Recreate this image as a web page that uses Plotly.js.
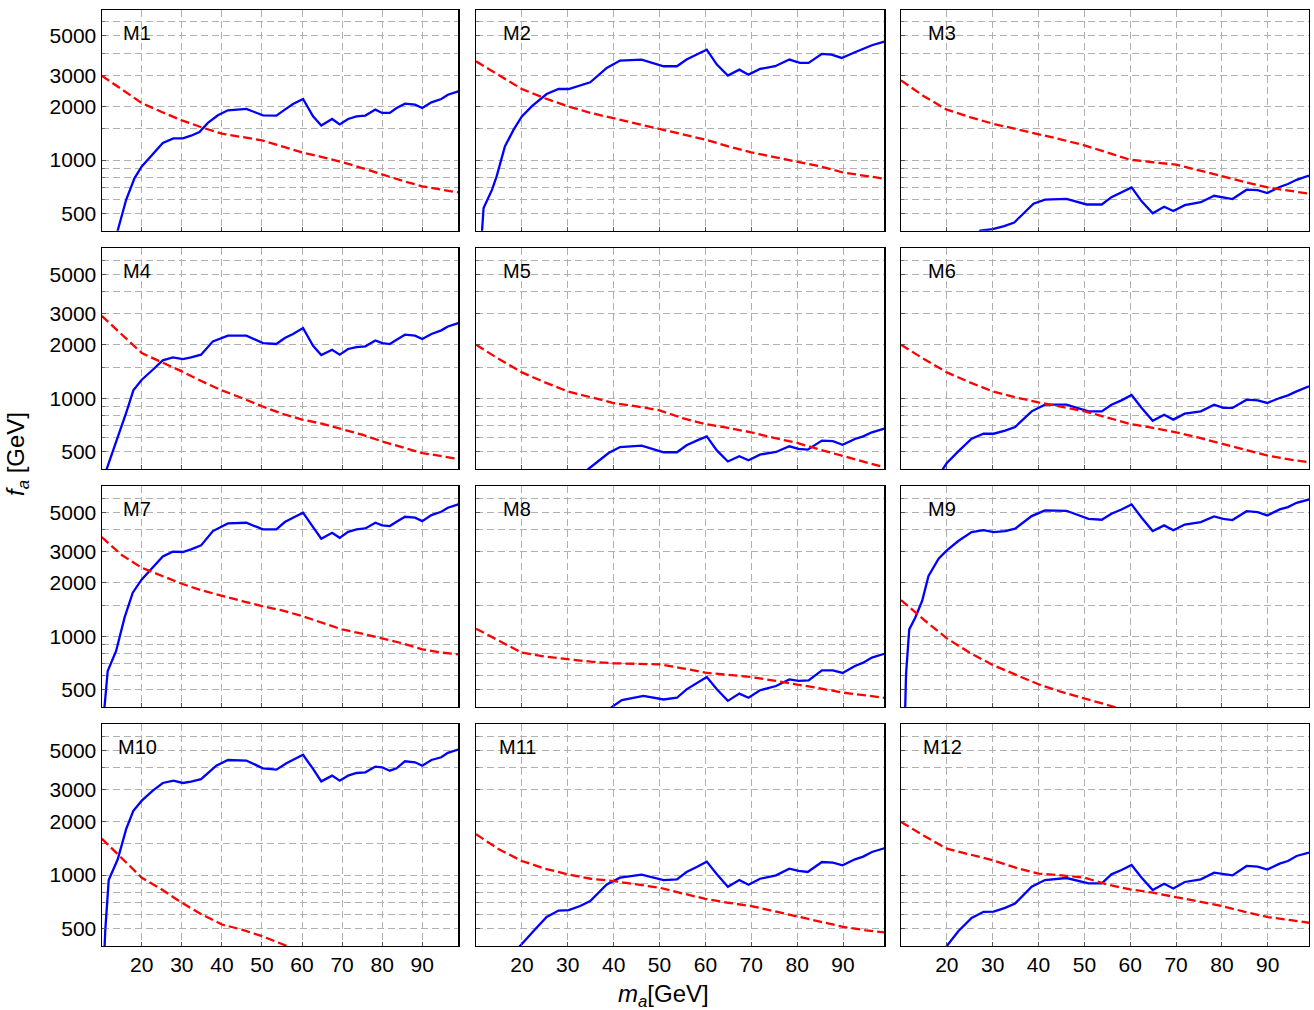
<!DOCTYPE html>
<html>
<head>
<meta charset="utf-8">
<script src="https://cdn.plot.ly/plotly-3.0.1.min.js"></script>
<style>html,body{margin:0;padding:0;background:#fff;}#chart{width:1314px;height:1010px;}</style>
</head>
<body>
<div id="chart"></div>
<script>
// ---------------- data ----------------
const panelNames = ['M1','M2','M3','M4','M5','M6','M7','M8','M9','M10','M11','M12'];
const xTickVals = [20,30,40,50,60,70,80,90];
const yTickVals = [500,1000,2000,3000,5000];
const yTickText = ['500','1000','2000','3000','5000'];
const yMinorGridVals = [600,700,800,900,1500,4000,6000];
const redX = [10,15,20,25,30,35,40,45,50,55,60,65,70,75,80,85,90,95,99];

const m1BlueX = [13.3,14,16.1,18.2,20,22.75,25.25,27.9,30.25,32.3,34.4,36.5,39,41.5,46.1,50.25,53.6,55.7,57.75,60.25,62.75,64.8,67.5,69.4,71.5,73.6,75.8,78.3,80,81.9,83.6,85.7,88.2,90,92.3,94.75,96.4,99];
const m1BlueY = [300,401,597,791,921,1072,1247,1325,1325,1371,1438,1618,1787,1906,1940,1787,1780,1923,2070,2208,1763,1567,1703,1588,1703,1763,1780,1923,1842,1842,1965,2079,2052,1965,2114,2208,2334,2438];
const m1Red = [2990,2500,2094,1865,1673,1527,1407,1348,1291,1194,1105,1040,974,901,827,765,711,680,657];

const m2BlueX = [11.1,11.3,11.65,13.5,14.5,16.3,18.2,20,22.2,25.4,28,30.2,32.7,34.9,38.5,41.4,46.1,50.9,53.8,55.9,58.1,60.3,62.5,64.9,67.4,69.4,71.9,75.2,78.3,80.6,82.5,85.4,87.5,89.7,92.6,94.1,96.3,99];
const m2BlueY = [330,400,536,681,809,1194,1483,1762,2010,2355,2512,2512,2624,2742,3305,3634,3681,3375,3375,3681,3927,4188,3450,2993,3230,3027,3258,3375,3681,3524,3524,3962,3927,3758,4046,4188,4433,4650];
const m2Red = [3597,2995,2512,2228,2010,1842,1719,1603,1497,1396,1303,1194,1105,1040,983,921,851,816,785];

const m3BlueX = [25,27.3,30,32.5,34.7,36.7,38.9,41.4,46.1,50.5,53.8,55.9,58.1,60.3,62.5,64.9,67.4,69.4,71.9,75.4,78.3,80.3,82.3,85.4,87.8,89.9,92.6,94.4,96.3,99];
const m3BlueY = [340,400,408,425,445,502,568,598,605,562,562,618,658,701,585,502,546,516,557,579,629,618,603,681,677,652,705,733,774,817];
const m3Red = [2812,2286,1923,1746,1603,1500,1407,1305,1210,1100,1004,972,942,875,809,752,701,670,646];

const m4BlueX = [10.8,11.25,11.9,14,16.1,17.9,20,22.75,25.25,27.75,30.25,32.3,34.8,37.75,41.5,46.1,50.25,53.6,55.7,57.75,60.25,62.75,64.8,67.5,69.4,71.5,73.6,75.8,78.3,80,81.9,83.6,85.7,88.2,90,92.3,94.75,96.4,99];
const m4BlueY = [340,400,441,599,827,1109,1274,1449,1637,1702,1665,1702,1762,2094,2254,2254,2047,2023,2188,2303,2489,1977,1754,1879,1762,1897,1945,1963,2119,2047,2023,2138,2282,2254,2158,2303,2415,2541,2655];
const m4Red = [2917,2303,1799,1596,1419,1247,1109,1004,902,820,759,720,671,624,572,532,492,472,456];

const m5BlueX = [32,34.5,38.9,41.4,46.1,50.9,53.8,55.9,58.1,60.3,62.5,64.9,67.4,69.4,71.9,75.4,78.3,80.3,82.3,85.4,87.8,89.9,92.6,94.4,96.3,99];
const m5BlueY = [360,400,492,532,542,497,497,544,578,611,509,441,472,448,482,499,537,519,514,578,574,548,590,611,644,675];
const m5Red = [2004,1665,1400,1231,1094,1013,941,902,856,774,717,681,644,598,561,514,472,436,409];

const m6BlueX = [18,19.1,20,22.5,25.4,28,30.2,32.7,34.9,38.5,41.4,46.1,50.9,53.8,55.9,58.1,60.3,62.5,64.9,67.4,69.4,71.9,75.4,78.3,80.3,82.3,85.4,87.8,89.9,92.6,94.4,96.3,99];
const m6BlueY = [360,400,433,503,593,632,632,658,690,845,921,921,845,845,921,974,1044,883,748,809,759,820,845,921,883,883,983,974,942,1004,1040,1094,1169];
const m6Red = [2004,1665,1400,1231,1094,1013,949,895,845,780,717,681,644,600,556,515,476,452,436];

const m7BlueX = [10.5,10.7,11.5,13.6,15.7,17.75,20,22.75,25.25,27.75,30.25,32.3,34.8,37.75,41.5,46.1,50.25,53.6,55.7,57.75,60.25,62.75,64.8,67.5,69.4,71.5,73.6,75.8,78.3,80,81.9,83.6,85.7,88.2,90,92.3,94.75,96.4,99];
const m7BlueY = [330,400,638,827,1274,1762,2094,2455,2818,2997,2985,3090,3254,3918,4326,4362,4001,4001,4403,4659,4970,4123,3548,3831,3589,3881,4001,4055,4362,4217,4180,4417,4716,4659,4456,4820,5032,5300,5535];
const m7Red = [3622,2872,2433,2188,1977,1815,1687,1581,1482,1400,1301,1194,1094,1035,974,914,845,809,792];

const m8BlueX = [38,39.6,41.8,46.5,50.9,53.8,55.9,58.1,60.3,62.5,64.9,67.4,69.4,71.9,75.4,78.3,80.3,82.5,85.4,87.8,89.9,92.6,94.4,96.3,99];
const m8BlueY = [360,400,438,462,441,451,503,544,590,503,433,476,451,497,525,572,561,565,644,644,622,681,711,759,798];
const m8Red = [1105,942,809,769,743,720,705,700,696,661,624,607,590,563,537,509,482,465,451];

const m9BlueX = [10.8,10.9,11.1,11.8,13.1,14.6,16,18.2,20,22.5,25.4,28,30.2,32.7,34.9,38.5,41.4,46.1,50.9,53.8,55.9,58.1,60.3,62.5,64.9,67.4,69.4,71.9,75.4,78.3,80.3,82.3,85.4,87.8,89.9,92.6,94.4,96.3,99];
const m9BlueY = [300,400,611,1094,1274,1581,2188,2735,3048,3443,3866,3966,3866,3918,4038,4756,5117,5096,4592,4536,4900,5185,5535,4659,3918,4217,3955,4266,4403,4732,4592,4518,5070,5010,4797,5185,5346,5649,5902];
const m9RedX = [10,15,20,25,30,35,40,45,50,56.7,60];
const m9Red = [1602,1240,974,809,690,606,537,486,448,400,378];

const m10BlueX = [10.5,10.7,10.9,11.75,14,16.1,17.9,20,22.75,25.25,27.9,30.25,32.3,34.8,38.6,41.5,46.1,50.25,53.6,56.1,57.75,60.25,62.75,64.8,67.5,69.4,71.5,73.6,75.8,78.3,80,81.9,83.6,85.7,88.2,90,92.3,94.75,96.4,99];
const m10BlueY = [300,400,494,937,1225,1807,2293,2612,2972,3282,3381,3282,3337,3450,4102,4416,4383,3966,3900,4236,4436,4721,3933,3350,3607,3381,3607,3733,3765,4055,4018,3846,3966,4345,4288,4102,4416,4571,4842,5058];
const m10RedX = [10,14.8,20,25,30,35,40,45,50,56.5,60];
const m10Red = [1602,1253,966,830,699,601,528,494,454,398,372];

const m11BlueX = [18,19.6,22.5,25.4,28,30.2,32.7,34.9,38.5,41.4,46.1,50.9,53.8,55.9,58.1,60.3,62.5,64.9,67.4,69.4,71.9,75.4,78.3,80.3,82.3,85.4,87.8,89.9,92.6,94.4,96.3,99];
const m11BlueY = [350,400,484,582,632,635,670,714,885,966,1004,937,946,1040,1109,1189,1009,860,937,883,953,996,1086,1054,1040,1183,1173,1133,1225,1268,1347,1413];
const m11Red = [1694,1393,1199,1086,1009,953,925,885,849,789,736,699,670,627,587,546,512,490,477];

const m12BlueX = [18.5,20,22.5,25.4,28,30.2,32.7,34.9,38.5,41.4,46.1,50.9,53.8,55.9,58.1,60.3,62.5,64.9,67.4,69.4,71.9,75.4,78.3,80.3,82.3,85.4,87.8,89.9,92.6,94.4,96.3,99];
const m12BlueY = [350,400,484,575,622,624,654,693,860,937,962,898,898,1009,1067,1138,966,824,894,841,914,946,1031,1009,996,1124,1114,1072,1158,1199,1279,1336];
const m12Red = [1986,1660,1406,1306,1210,1099,1018,996,966,885,830,796,752,714,670,622,581,558,540];

// ---------------- assembly ----------------
const panels = [
  [m1BlueX, m1BlueY, redX, m1Red],
  [m2BlueX, m2BlueY, redX, m2Red],
  [m3BlueX, m3BlueY, redX, m3Red],
  [m4BlueX, m4BlueY, redX, m4Red],
  [m5BlueX, m5BlueY, redX, m5Red],
  [m6BlueX, m6BlueY, redX, m6Red],
  [m7BlueX, m7BlueY, redX, m7Red],
  [m8BlueX, m8BlueY, redX, m8Red],
  [m9BlueX, m9BlueY, m9RedX, m9Red],
  [m10BlueX, m10BlueY, m10RedX, m10Red],
  [m11BlueX, m11BlueY, redX, m11Red],
  [m12BlueX, m12BlueY, redX, m12Red]
];

const W = 1314, H = 1010;
const colPx = [[101.7, 458.3], [476, 884.3], [901, 1309]];
const rowPx = [[10, 230.7], [248.3, 469], [486.3, 707], [724.3, 946]];
const labelCx = [137, 517, 942];
const FONT = 'Liberation Sans, Arial, Helvetica, sans-serif';
const GRID = {color: '#b0b0b0', dash: '7px,4px'};

const traces = [];
const layout = {
  width: W, height: H, autosize: false,
  margin: {l: 0, r: 0, t: 0, b: 0},
  paper_bgcolor: '#ffffff', plot_bgcolor: '#ffffff',
  showlegend: false,
  font: {family: FONT, size: 21, color: '#000'},
  annotations: []
};

panels.forEach((p, i) => {
  const n = i + 1;
  const sfx = n === 1 ? '' : String(n);
  const row = Math.floor(i / 3), col = i % 3;
  traces.push({
    x: p[0], y: p[1], xaxis: 'x' + sfx, yaxis: 'y' + sfx,
    type: 'scatter', mode: 'lines',
    line: {color: '#0000ff', width: 2.3}, hoverinfo: 'skip'
  });
  traces.push({
    x: p[2], y: p[3], xaxis: 'x' + sfx, yaxis: 'y' + sfx,
    type: 'scatter', mode: 'lines',
    line: {color: '#ff0000', width: 2.3, dash: '9px,4px'}, hoverinfo: 'skip'
  });
  const common = {
    showgrid: true, gridcolor: GRID.color, gridwidth: 1, griddash: GRID.dash,
    showline: true, linecolor: '#000', linewidth: 1.2, mirror: true,
    ticks: 'inside', ticklen: 4, tickwidth: 1, tickcolor: '#555',
    zeroline: false, fixedrange: true,
    tickfont: {family: FONT, size: 21, color: '#000'}
  };
  layout['xaxis' + sfx] = Object.assign({}, common, {
    domain: [colPx[col][0] / W, colPx[col][1] / W],
    anchor: 'y' + sfx,
    range: [10, 99],
    tickmode: 'array', tickvals: xTickVals,
    ticktext: xTickVals.map(String),
    showticklabels: row === 3
  });
  layout['yaxis' + sfx] = Object.assign({}, common, {
    domain: [1 - rowPx[row][1] / H, 1 - rowPx[row][0] / H],
    anchor: 'x' + sfx,
    type: 'log',
    range: [Math.log10(400), Math.log10(7000)],
    tickmode: 'array', tickvals: yTickVals, ticktext: yTickText,
    showticklabels: col === 0,
    minor: {
      tickmode: 'array', tickvals: yMinorGridVals,
      showgrid: true, gridcolor: GRID.color, gridwidth: 1, griddash: GRID.dash,
      ticks: 'inside', ticklen: 3, tickcolor: '#777'
    }
  });
  layout.annotations.push({
    xref: 'paper', yref: 'paper',
    x: labelCx[col] / W, y: 1 - (rowPx[row][0] + 23) / H,
    xanchor: 'center', yanchor: 'middle', showarrow: false,
    text: panelNames[i], font: {family: FONT, size: 20, color: '#000'}
  });
});

layout.annotations.push({
  xref: 'paper', yref: 'paper', x: 18 / W, y: 1 - 454 / H,
  xanchor: 'center', yanchor: 'middle', showarrow: false, textangle: -90,
  text: '<i>f<sub>a</sub></i> [GeV]', font: {family: FONT, size: 24, color: '#000'}
});
layout.annotations.push({
  xref: 'paper', yref: 'paper', x: 663 / W, y: 1 - 995 / H,
  xanchor: 'center', yanchor: 'middle', showarrow: false,
  text: '<i>m<sub>a</sub></i>[GeV]', font: {family: FONT, size: 24, color: '#000'}
});

Plotly.newPlot('chart', traces, layout, {staticPlot: true, displayModeBar: false});
</script>
</body>
</html>
